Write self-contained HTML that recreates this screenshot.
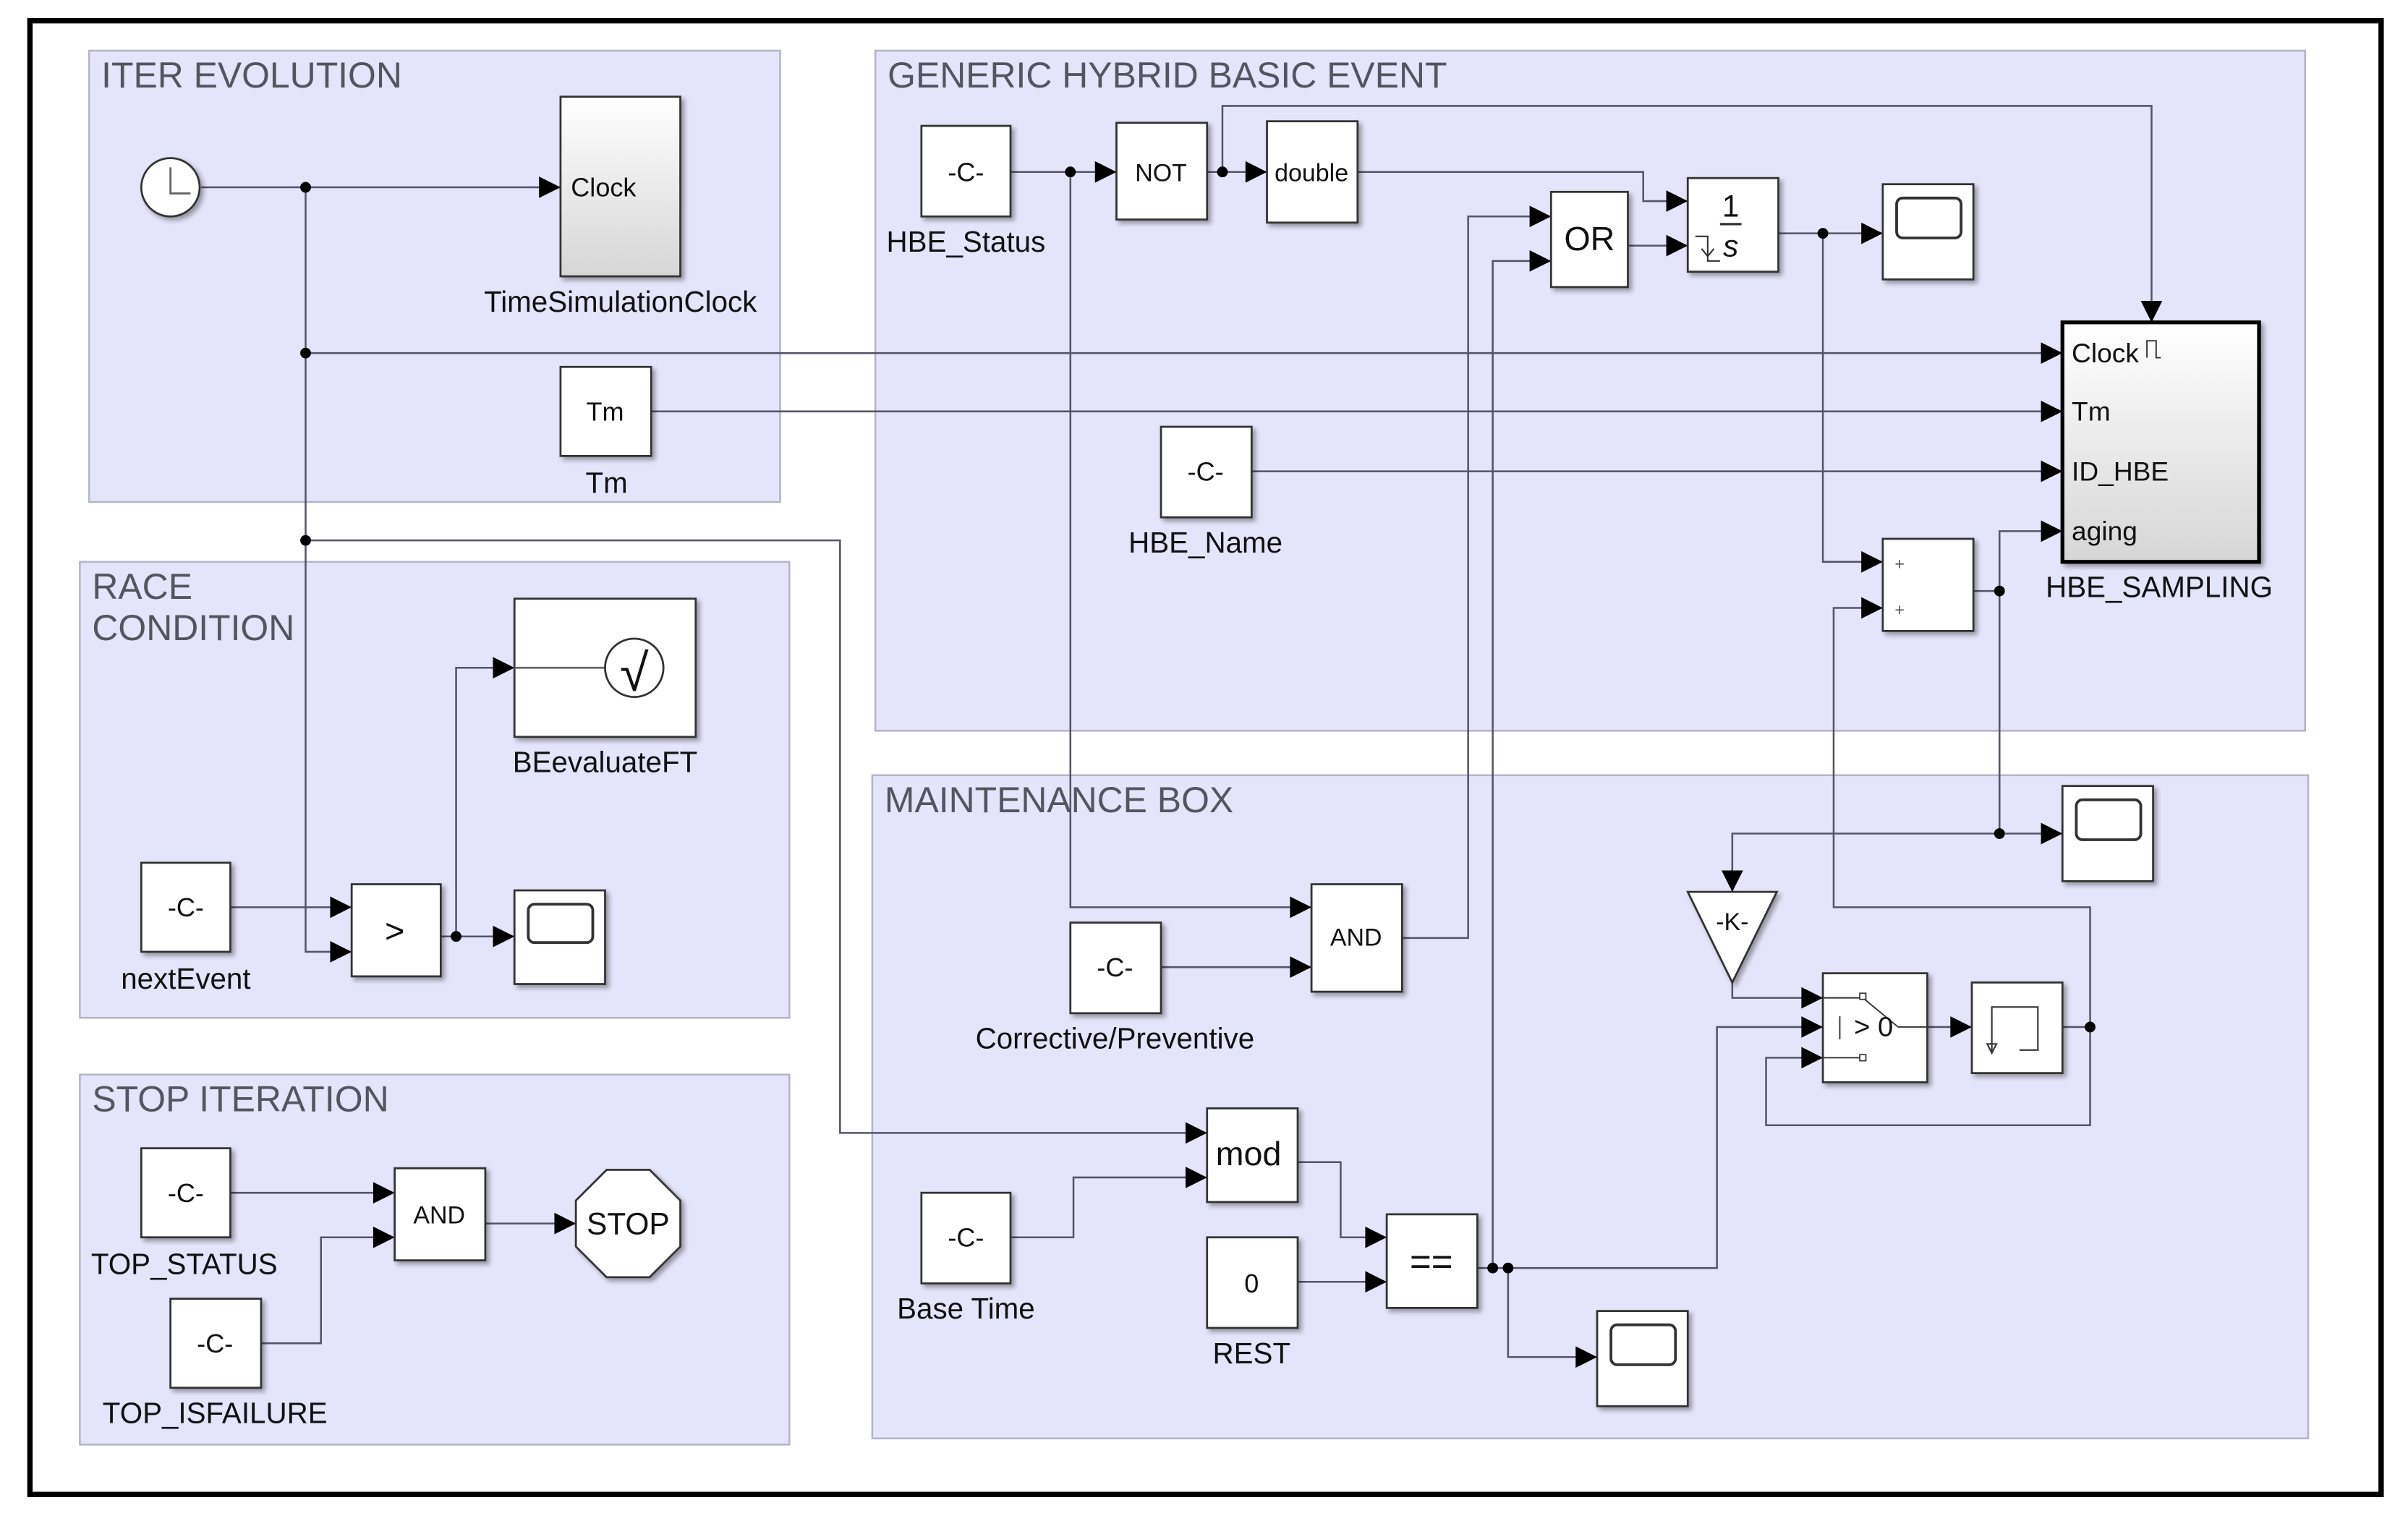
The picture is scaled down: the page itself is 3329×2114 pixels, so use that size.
<!DOCTYPE html>
<html><head><meta charset="utf-8"><style>
html,body{margin:0;padding:0;background:#fff;}
svg{display:block;}
text{font-family:"Liberation Sans",sans-serif;}
</style></head><body>
<svg width="3329" height="2114" viewBox="0 0 1568 996" preserveAspectRatio="none" xmlns="http://www.w3.org/2000/svg">
<defs>
<marker id="a" markerUnits="userSpaceOnUse" markerWidth="16" markerHeight="16" viewBox="0 0 16 16" refX="15" refY="8" orient="auto"><path d="M1,1 L15,8 L1,15 z" fill="#000"/></marker>
<linearGradient id="g" x1="0" y1="0" x2="0" y2="1"><stop offset="0" stop-color="#fff"/><stop offset="1" stop-color="#d6d6d6"/></linearGradient>
</defs>
<rect x="0" y="0" width="1568" height="996" fill="#fff"/>
<rect x="19.5" y="13.5" width="1531" height="960" fill="#fff" stroke="#000" stroke-width="3.5"/>
<g fill="#e4e4fa" stroke="#b4b4c8" stroke-width="1.2">
<rect x="58" y="33" width="450" height="294"/>
<rect x="52" y="366" width="462" height="297"/>
<rect x="52" y="700" width="462" height="241"/>
<rect x="570" y="33" width="931" height="443"/>
<rect x="568" y="505" width="935" height="432"/>
</g>
<g fill="#555560" font-size="23.5">
<text x="66" y="57">ITER EVOLUTION</text>
<text x="60" y="390">RACE</text>
<text x="60" y="417">CONDITION</text>
<text x="60" y="724">STOP ITERATION</text>
<text x="578" y="57">GENERIC HYBRID BASIC EVENT</text>
<text x="576" y="529">MAINTENANCE BOX</text>
</g>
<g fill="none" stroke="#55556a" stroke-width="1.2">
<path d="M131,122 H365" marker-end="url(#a)"/>
<path d="M199,122 V620 H229" marker-end="url(#a)"/>
<path d="M199,230 H1343" marker-end="url(#a)"/>
<path d="M424,268 H1343" marker-end="url(#a)"/>
<path d="M199,352 H547 V738 H786" marker-end="url(#a)"/>
<path d="M150,591 H229" marker-end="url(#a)"/>
<path d="M287,610 H335" marker-end="url(#a)"/>
<path d="M297,610 V435 H335" marker-end="url(#a)"/>
<path d="M150,777 H257" marker-end="url(#a)"/>
<path d="M170,875 H209 V806 H257" marker-end="url(#a)"/>
<path d="M316,797 H375" marker-end="url(#a)"/>
<path d="M658,112 H727" marker-end="url(#a)"/>
<path d="M697,112 V591 H854" marker-end="url(#a)"/>
<path d="M786,112 H825" marker-end="url(#a)"/>
<path d="M796,112 V69 H1401 V210" marker-end="url(#a)"/>
<path d="M884,112 H1070 V131 H1099" marker-end="url(#a)"/>
<path d="M1060,160 H1099" marker-end="url(#a)"/>
<path d="M913,611 H956 V141 H1010" marker-end="url(#a)"/>
<path d="M972,826 V170 H1010" marker-end="url(#a)"/>
<path d="M1158,152 H1226" marker-end="url(#a)"/>
<path d="M1187,152 V366 H1226" marker-end="url(#a)"/>
<path d="M815,307 H1343" marker-end="url(#a)"/>
<path d="M1285,385 H1302 V346 H1343" marker-end="url(#a)"/>
<path d="M1302,385 V543 H1343" marker-end="url(#a)"/>
<path d="M1302,543 H1128 V581" marker-end="url(#a)"/>
<path d="M1361,669 V591 H1194 V396 H1226" marker-end="url(#a)"/>
<path d="M756,630 H854" marker-end="url(#a)"/>
<path d="M1128,640 V650 H1187" marker-end="url(#a)"/>
<path d="M1255,669 H1284" marker-end="url(#a)"/>
<path d="M1343,669 H1361 V733 H1150 V689 H1187" marker-end="url(#a)"/>
<path d="M962,826 H1118 V669 H1187" marker-end="url(#a)"/>
<path d="M982,826 V884 H1040" marker-end="url(#a)"/>
<path d="M658,806 H699 V767 H786" marker-end="url(#a)"/>
<path d="M845,757 H873 V806 H903" marker-end="url(#a)"/>
<path d="M845,835 H903" marker-end="url(#a)"/>
</g>
<g fill="#000">
<circle cx="199" cy="122" r="3.5"/><circle cx="199" cy="230" r="3.5"/><circle cx="199" cy="352" r="3.5"/>
<circle cx="297" cy="610" r="3.5"/><circle cx="697" cy="112" r="3.5"/><circle cx="796" cy="112" r="3.5"/>
<circle cx="1187" cy="152" r="3.5"/><circle cx="1302" cy="385" r="3.5"/><circle cx="1302" cy="543" r="3.5"/>
<circle cx="1361" cy="669" r="3.5"/><circle cx="972" cy="826" r="3.5"/><circle cx="982" cy="826" r="3.5"/>
</g>
<g stroke="#333" stroke-width="1.3" fill="#fff" style="filter:drop-shadow(2px 2px 1.5px rgba(0,0,0,0.35))">
<circle cx="111" cy="122" r="19"/>
<rect x="365" y="63" width="78" height="117" fill="url(#g)"/>
<rect x="365" y="239" width="59" height="58"/>
<rect x="335" y="390" width="118" height="90"/>
<rect x="92" y="562" width="58" height="58"/>
<rect x="229" y="576" width="58" height="60"/>
<rect x="335" y="580" width="59" height="61"/>
<rect x="92" y="748" width="58" height="58"/>
<rect x="111" y="846" width="59" height="58"/>
<rect x="257" y="761" width="59" height="60"/>
<polygon points="395,762 423,762 443,782 443,812 423,832 395,832 375,812 375,782"/>
<rect x="600" y="82" width="58" height="59"/>
<rect x="727" y="80" width="59" height="63"/>
<rect x="825" y="79" width="59" height="66"/>
<rect x="1010" y="125" width="50" height="62"/>
<rect x="1099" y="116" width="59" height="61"/>
<rect x="1226" y="120" width="59" height="62"/>
<rect x="756" y="278" width="59" height="59"/>
<rect x="1343" y="210" width="128" height="156" fill="url(#g)" stroke="#000" stroke-width="2.5"/>
<rect x="1226" y="351" width="59" height="60"/>
<rect x="1343" y="512" width="59" height="62"/>
<rect x="854" y="576" width="59" height="70"/>
<rect x="697" y="601" width="59" height="59"/>
<polygon points="1099,581 1157,581 1128,640"/>
<rect x="1187" y="634" width="68" height="71"/>
<rect x="1284" y="640" width="59" height="59"/>
<rect x="786" y="722" width="59" height="61"/>
<rect x="600" y="777" width="58" height="59"/>
<rect x="786" y="806" width="59" height="59"/>
<rect x="903" y="791" width="59" height="61"/>
<rect x="1040" y="854" width="59" height="62"/>
</g>
<g fill="none" stroke="#333" stroke-width="1.3">
<path d="M111,109 V126 H124" stroke="#666"/>
<path d="M335,435 H394" stroke="#666"/>
<circle cx="413" cy="435" r="19"/>
<rect x="344" y="589" width="42" height="25" rx="4" stroke-width="1.8"/>
<rect x="1235" y="129" width="42" height="26" rx="4" stroke-width="1.8"/>
<rect x="1352" y="521" width="42" height="26" rx="4" stroke-width="1.8"/>
<rect x="1049" y="863" width="42" height="26" rx="4" stroke-width="1.8"/>
<path d="M1104,154 H1112 V170 H1120 M1108,162 L1112,167 L1116,162" stroke-width="1"/>
<path d="M1120,146 H1134" stroke-width="1.5"/>
<path d="M1398,233 V222 H1404 V233 H1407" stroke-width="0.9"/>
<path d="M1187,650 H1213 L1236,669 H1255 M1187,689 H1213 M1198,662 V677" stroke-width="0.9"/>
<rect x="1211" y="647" width="4" height="4" stroke-width="0.8" fill="#fff"/>
<rect x="1211" y="687" width="4" height="4" stroke-width="0.8" fill="#fff"/>
<path d="M1297,685 V656 H1327 V684 H1315 M1294,680 L1297,686 L1300,680 Z" stroke-width="1"/>
</g>
<g font-size="19" fill="#111" text-anchor="middle">
<text x="393" y="128" font-size="17">Clock</text>
<text x="404" y="203">TimeSimulationClock</text>
<text x="394" y="274" font-size="17">Tm</text>
<text x="395" y="321">Tm</text>
<text x="413" y="450" font-size="34" font-family="Liberation Serif">√</text>
<text x="394" y="503">BEevaluateFT</text>
<text x="121" y="597" font-size="17">-C-</text>
<text x="121" y="644">nextEvent</text>
<text x="257" y="614" font-size="22">&gt;</text>
<text x="121" y="783" font-size="17">-C-</text>
<text x="120" y="830">TOP_STATUS</text>
<text x="140" y="881" font-size="17">-C-</text>
<text x="140" y="927">TOP_ISFAILURE</text>
<text x="286" y="797" font-size="16">AND</text>
<text x="409" y="804" font-size="20">STOP</text>
<text x="629" y="118" font-size="17">-C-</text>
<text x="629" y="164">HBE_Status</text>
<text x="756" y="118" font-size="16">NOT</text>
<text x="854" y="118" font-size="16">double</text>
<text x="1035" y="163" font-size="22">OR</text>
<text x="1127" y="141" font-size="20" font-family="Liberation Serif">1</text>
<text x="1127" y="167" font-size="20" font-family="Liberation Serif" font-style="italic">s</text>
<text x="785" y="313" font-size="17">-C-</text>
<text x="785" y="360">HBE_Name</text>
<text x="1406" y="389">HBE_SAMPLING</text>
<text x="1237" y="371" font-size="11" fill="#555">+</text>
<text x="1237" y="401" font-size="11" fill="#555">+</text>
<text x="883" y="616" font-size="16">AND</text>
<text x="726" y="636" font-size="17">-C-</text>
<text x="726" y="683">Corrective/Preventive</text>
<text x="1128" y="606" font-size="16">-K-</text>
<text x="1220" y="675" font-size="18">&gt; 0</text>
<text x="813" y="759" font-size="22">mod</text>
<text x="629" y="812" font-size="17">-C-</text>
<text x="629" y="859">Base Time</text>
<text x="815" y="842" font-size="17">0</text>
<text x="815" y="888">REST</text>
<text x="932" y="830" font-size="24">==</text>
</g>
<g font-size="17.5" fill="#111">
<text x="1349" y="236">Clock</text>
<text x="1349" y="274">Tm</text>
<text x="1349" y="313">ID_HBE</text>
<text x="1349" y="352">aging</text>
</g>
</svg>
</body></html>
